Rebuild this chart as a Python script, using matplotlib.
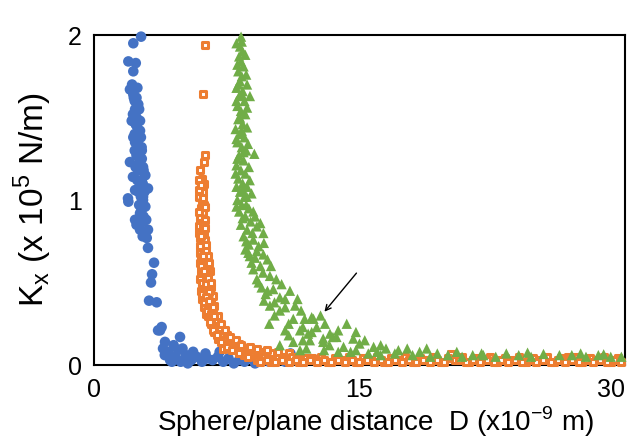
import numpy as np
import matplotlib.pyplot as plt

plt.rcParams["font.family"] = ["Liberation Sans", "DejaVu Sans"]
plt.rcParams["mathtext.fontset"] = "custom"
plt.rcParams["mathtext.rm"] = "Liberation Sans"

# sphere/plane distance D (x1e-9 m) and stiffness Kx (x1e5 N/m)
blue_x = [2.66, 2.22, 1.94, 2.36, 2.22, 2.03, 2.22, 2.32, 2.13, 2.41, 2.22, 2.32,
          2.69, 2.03, 2.60, 2.77, 2.20, 2.69, 3.05, 2.32, 1.92, 2.77, 1.94, 2.77,
          2.69, 2.32, 2.77, 2.60, 3.05, 2.98, 3.05, 3.39, 3.28, 3.22, 3.11, 3.54,
          3.62, 3.82, 4.86, 4.01, 4.18, 4.75, 5.14,
          2.30, 2.50, 2.20, 2.40, 2.60, 2.30, 2.50, 2.40, 2.70, 2.50, 2.90, 2.60,
          2.50, 2.90, 2.60, 2.80, 2.40, 2.90, 3.73,
          2.15, 2.45, 2.25, 2.55, 2.35, 2.65, 2.45, 2.55, 2.35, 2.75, 2.45, 2.65,
          2.85, 2.55, 2.75, 2.95, 2.40, 2.60, 2.30, 2.70, 2.50, 2.80,
          4.00, 4.30, 4.60, 4.90, 5.20, 5.50, 5.80, 6.10, 6.40, 6.70, 7.00, 7.30,
          7.60, 7.90, 8.20, 8.50, 8.80, 9.10, 9.50, 9.90, 10.3, 10.8, 11.1, 11.3,
          5.00, 4.50, 3.90, 5.60, 6.30, 7.10, 4.40, 5.30]
blue_y = [1.99, 1.95, 1.84, 1.83, 1.78, 1.67, 1.64, 1.55, 1.48, 1.45, 1.38, 1.35,
          1.32, 1.23, 1.23, 1.20, 1.14, 1.12, 1.07, 1.06, 1.01, 1.02, 0.99, 1.00,
          0.94, 0.88, 0.87, 0.82, 0.82, 0.77, 0.71, 0.62, 0.55, 0.50, 0.39, 0.38,
          0.21, 0.23, 0.17, 0.14, 0.08, 0.09, 0.04,
          1.60, 1.58, 1.52, 1.50, 1.42, 1.40, 1.30, 1.27, 1.25, 1.18, 1.15, 1.10,
          1.05, 0.96, 0.92, 0.90, 0.85, 0.80, 0.21,
          1.70, 1.68, 1.62, 1.55, 1.46, 1.38, 1.35, 1.22, 1.20, 1.10, 1.12, 1.02,
          1.05, 0.97, 0.78, 0.88, 1.62, 1.48, 1.30, 1.30, 1.42, 1.18,
          0.06, 0.03, 0.05, 0.02, 0.06, 0.03, 0.05, 0.02, 0.04, 0.03, 0.05, 0.02,
          0.04, 0.01, 0.03, 0.02, 0.04, 0.01, 0.03, 0.02, 0.03, 0.02, 0.07, 0.03,
          0.10, 0.12, 0.10, 0.08, 0.07, 0.08, 0.02, 0.01]

orange_x = [6.27, 6.16, 6.27, 6.21, 5.99, 6.10, 6.05, 6.15, 5.95, 6.10, 6.02, 6.18,
            5.97, 6.12, 6.05, 6.20, 6.00, 6.15, 6.08, 6.25, 6.02, 6.30, 6.12, 6.40,
            6.18, 6.05, 6.35, 6.22, 6.45, 6.12, 6.30, 6.50, 6.20, 6.40, 6.60, 6.30,
            6.50, 6.70, 6.45, 6.65, 6.90, 6.60, 6.85, 7.10, 6.80, 7.20, 7.50, 7.00,
            7.40, 7.80, 8.20, 7.60, 8.00, 8.60, 9.00, 8.40, 9.40, 9.80, 10.3, 8.90,
            10.8, 11.3, 9.60, 11.8, 12.3, 10.0, 20.2, 26.8, 7.3, 7.9, 8.5, 9.2,
            6.20, 5.92, 6.22, 5.93, 6.25, 5.96, 6.28, 5.98, 6.35, 5.98, 6.45, 6.00,
            6.55, 6.05, 6.60, 6.10, 6.70, 6.20, 6.80, 6.35, 7.00, 6.55, 7.20, 6.75,
            7.40, 6.95, 7.70, 7.20, 8.00, 7.50, 8.30, 7.80, 8.80, 8.20, 9.20, 9.80,
            10.4, 8.70, 11.0,
            5.95, 6.05, 6.15, 6.25, 5.95, 6.05, 6.15, 6.25, 6.35, 5.98, 6.08, 6.18,
            6.28, 6.38, 6.48, 6.02, 6.12, 6.22, 6.32, 6.42, 6.52, 6.62, 6.10, 6.20,
            6.30, 6.40, 6.50, 6.60, 6.70, 6.80,
            9.2, 9.6, 10.0, 10.4, 10.8, 11.2, 11.6, 12.0, 12.4, 12.8, 13.2, 13.6,
            14.0, 14.4, 14.8, 15.2, 15.6, 16.0, 16.4, 16.8, 17.2, 17.6, 18.0, 18.4,
            18.8, 19.2, 19.6, 20.0, 20.4, 20.8, 21.2, 21.6, 22.0, 22.4, 22.8, 23.2,
            23.6, 24.0, 24.4, 24.8, 25.2, 25.6, 26.0, 26.4, 26.8, 27.2, 27.6, 28.0,
            28.4, 28.8, 29.2, 29.6,
            9.4, 9.8, 10.2, 10.6, 11.0, 11.4, 11.8, 12.2, 12.6, 13.0, 13.4, 13.8,
            14.2, 14.6, 15.0, 15.4, 15.8, 16.2, 16.6, 17.0, 17.4, 17.8, 18.2, 18.6,
            19.0, 19.4, 19.8, 20.6, 21.0, 21.4, 21.8, 22.2, 22.6, 23.0, 23.4, 23.8,
            24.2, 24.6, 25.0, 25.4, 25.8, 26.2, 26.6, 27.0, 27.4, 27.8, 28.2, 28.6,
            29.0, 29.4, 29.8]
orange_y = [1.94, 1.64, 1.27, 1.23, 1.18, 1.13, 1.08, 1.05, 1.02, 0.99, 0.95, 0.92,
            0.89, 0.86, 0.82, 0.80, 0.77, 0.74, 0.71, 0.69, 0.66, 0.64, 0.62, 0.60,
            0.58, 0.56, 0.54, 0.52, 0.50, 0.48, 0.46, 0.44, 0.42, 0.40, 0.38, 0.36,
            0.34, 0.32, 0.30, 0.28, 0.27, 0.25, 0.23, 0.22, 0.20, 0.19, 0.18, 0.16,
            0.15, 0.14, 0.13, 0.12, 0.11, 0.10, 0.09, 0.08, 0.08, 0.07, 0.06, 0.06,
            0.05, 0.05, 0.04, 0.04, 0.04, 0.07, 0.067, 0.05, 0.10, 0.09, 0.06, 0.05,
            1.10, 1.06, 0.97, 0.93, 0.88, 0.84, 0.76, 0.72, 0.70, 0.62, 0.66, 0.52,
            0.57, 0.45, 0.47, 0.40, 0.42, 0.35, 0.36, 0.31, 0.30, 0.26, 0.25, 0.21,
            0.21, 0.18, 0.17, 0.14, 0.15, 0.11, 0.12, 0.09, 0.11, 0.07, 0.10, 0.09,
            0.08, 0.05, 0.07,
            1.12, 1.09, 1.01, 0.96, 0.80, 0.78, 0.85, 0.83, 0.73, 0.68, 0.58, 0.66,
            0.61, 0.56, 0.62, 0.60, 0.50, 0.57, 0.49, 0.53, 0.44, 0.50, 0.43, 0.38,
            0.41, 0.33, 0.39, 0.31, 0.35, 0.30,
            0.03, 0.05, 0.02, 0.04, 0.03, 0.05, 0.02, 0.04, 0.03, 0.05, 0.02, 0.04,
            0.03, 0.05, 0.02, 0.04, 0.03, 0.05, 0.02, 0.04, 0.03, 0.05, 0.02, 0.04,
            0.03, 0.05, 0.02, 0.04, 0.03, 0.05, 0.02, 0.04, 0.03, 0.05, 0.02, 0.04,
            0.03, 0.05, 0.02, 0.04, 0.03, 0.05, 0.02, 0.04, 0.03, 0.05, 0.02, 0.04,
            0.03, 0.05, 0.02, 0.04,
            0.02, 0.03, 0.02, 0.03, 0.02, 0.03, 0.02, 0.03, 0.02, 0.03, 0.02, 0.03,
            0.02, 0.03, 0.02, 0.03, 0.02, 0.03, 0.02, 0.03, 0.02, 0.03, 0.02, 0.03,
            0.02, 0.03, 0.02, 0.03, 0.02, 0.03, 0.02, 0.03, 0.02, 0.03, 0.02, 0.03,
            0.02, 0.03, 0.02, 0.03, 0.02, 0.03, 0.02, 0.03, 0.02, 0.03, 0.02, 0.03,
            0.02, 0.03, 0.02]

green_x = [8.31, 8.35, 8.25, 8.40, 8.20, 8.30, 8.45, 8.15, 8.35, 8.25, 8.05, 8.40,
           8.20, 8.81, 8.50, 8.10, 8.30, 8.55, 8.15, 8.40, 8.00, 8.25, 8.50, 8.10,
           8.35, 8.60, 9.06, 8.20, 8.45, 8.05, 8.30, 8.55, 8.15, 8.40, 8.65, 8.25,
           8.50, 8.10, 8.63, 8.35, 8.75, 8.20, 9.10, 8.55, 8.85, 8.30, 9.20, 8.65,
           9.57, 8.45, 9.00, 8.75, 9.30, 8.55, 8.72, 9.57, 9.10, 8.90, 9.40, 9.00,
           9.94, 10.3, 9.20, 9.47, 10.13, 11.07, 9.70, 10.5, 9.60, 9.94, 10.8, 11.36,
           10.2, 11.26, 11.9, 12.3, 13.05, 12.58, 11.64, 13.33, 10.8, 11.26, 12.2, 12.95,
           13.7, 11.64, 12.4, 14.28, 11.8, 12.1, 13.5, 14.65, 15.0, 12.95, 15.8, 16.5,
           17.7, 14.1, 18.4, 19.4, 23.3, 25.4, 26.3, 29.8, 21.4,
           8.05, 8.55, 8.10, 8.60, 8.15, 8.65, 8.35, 8.05, 8.65, 8.25, 8.65, 8.35,
           8.05, 8.70, 8.45, 8.10, 8.75, 8.00, 8.80, 8.05, 8.90, 8.40, 8.05, 8.60,
           9.00, 8.40, 9.40, 8.95, 8.60, 9.60, 9.20, 9.80, 8.80, 9.55, 10.0, 9.30,
           10.6, 9.80, 10.8, 10.2, 11.5, 10.5, 11.7, 12.8, 11.0, 12.3, 13.8, 14.8,
           11.8, 13.3, 15.3, 16.2, 17.2, 14.8, 16.0, 18.8, 20.5, 21.9, 24.5, 27.5,
           28.8,
           14.5, 15.5, 16.2, 17.0, 18.0, 19.0, 20.0, 20.8, 22.0, 22.7, 24.0, 24.7,
           27.0, 27.8, 28.5, 29.2, 12.0, 13.0, 13.8, 10.5, 9.9, 11.0]
green_y = [1.99, 1.96, 1.93, 1.90, 1.87, 1.84, 1.81, 1.78, 1.75, 1.72, 1.68, 1.66,
           1.63, 1.63, 1.60, 1.57, 1.54, 1.52, 1.49, 1.46, 1.43, 1.40, 1.38, 1.35,
           1.32, 1.30, 1.28, 1.27, 1.24, 1.21, 1.18, 1.16, 1.13, 1.10, 1.08, 1.05,
           1.02, 1.00, 1.02, 0.97, 0.95, 0.93, 0.90, 0.90, 0.87, 0.85, 0.84, 0.82,
           0.80, 0.78, 0.76, 0.73, 0.72, 0.70, 0.68, 0.67, 0.65, 0.62, 0.60, 0.58,
           0.54, 0.52, 0.52, 0.47, 0.46, 0.45, 0.43, 0.41, 0.39, 0.36, 0.35, 0.36,
           0.30, 0.28, 0.28, 0.29, 0.25, 0.23, 0.21, 0.19, 0.21, 0.14, 0.15, 0.16,
           0.17, 0.09, 0.28, 0.25, 0.23, 0.19, 0.17, 0.16, 0.13, 0.14, 0.11, 0.10,
           0.10, 0.11, 0.08, 0.07, 0.07, 0.067, 0.06, 0.05, 0.06,
           1.95, 1.88, 1.82, 1.76, 1.70, 1.70, 1.64, 1.60, 1.56, 1.50, 1.44, 1.42,
           1.37, 1.34, 1.29, 1.25, 1.20, 1.16, 1.12, 1.08, 1.04, 1.06, 0.96, 0.97,
           0.93, 0.89, 0.86, 0.80, 0.75, 0.74, 0.69, 0.64, 0.66, 0.56, 0.60, 0.50,
           0.49, 0.45, 0.40, 0.38, 0.40, 0.33, 0.33, 0.30, 0.25, 0.20, 0.21, 0.20,
           0.15, 0.12, 0.15, 0.12, 0.09, 0.09, 0.08, 0.10, 0.08, 0.07, 0.075, 0.07,
           0.065,
           0.08, 0.07, 0.06, 0.07, 0.06, 0.05, 0.06, 0.05, 0.06, 0.05, 0.06, 0.05,
           0.06, 0.05, 0.06, 0.05, 0.10, 0.09, 0.08, 0.12, 0.25, 0.18]

BLUE = "#4472C4"
ORANGE = "#ED7D31"
GREEN = "#70AD47"

fig = plt.figure(figsize=(6.37, 4.41), dpi=100)
ax = fig.add_axes([0.1476, 0.1723, 0.8334, 0.7483])

ax.scatter(blue_x, blue_y, s=58, color=BLUE, edgecolors="none", zorder=3, clip_on=False)
ax.scatter(orange_x, orange_y, s=17, marker="s", facecolors="white",
           edgecolors=ORANGE, linewidths=2.2, zorder=3, clip_on=False)
ax.scatter(green_x, green_y, s=55, marker="^", color=GREEN, edgecolors="none",
           zorder=3, clip_on=False)

ax.annotate("", xy=(12.92, 0.31), xytext=(14.93, 0.57),
            arrowprops=dict(arrowstyle="->", color="black", lw=1.0))

ax.set_xlim(0, 30)
ax.set_ylim(0, 2)
ax.set_xticks([0, 15, 30])
ax.set_yticks([0, 1, 2])
ax.tick_params(length=0, labelsize=18, pad=9)
ax.get_xticklabels()[-1].set_ha("right")
for sp in ax.spines.values():
    sp.set_linewidth(1.5)
    sp.set_color("black")

ax.set_xlabel(r"Sphere/plane distance  D (x10$^{\mathregular{-9}}$ m)", fontsize=20,
              labelpad=2, x=0.53)
ax.set_ylabel(r"K$_{\mathregular{x}}$ (x 10$^{\mathregular{5}}$ N/m)", fontsize=24, labelpad=10)

fig.savefig("out.png", dpi=100)
